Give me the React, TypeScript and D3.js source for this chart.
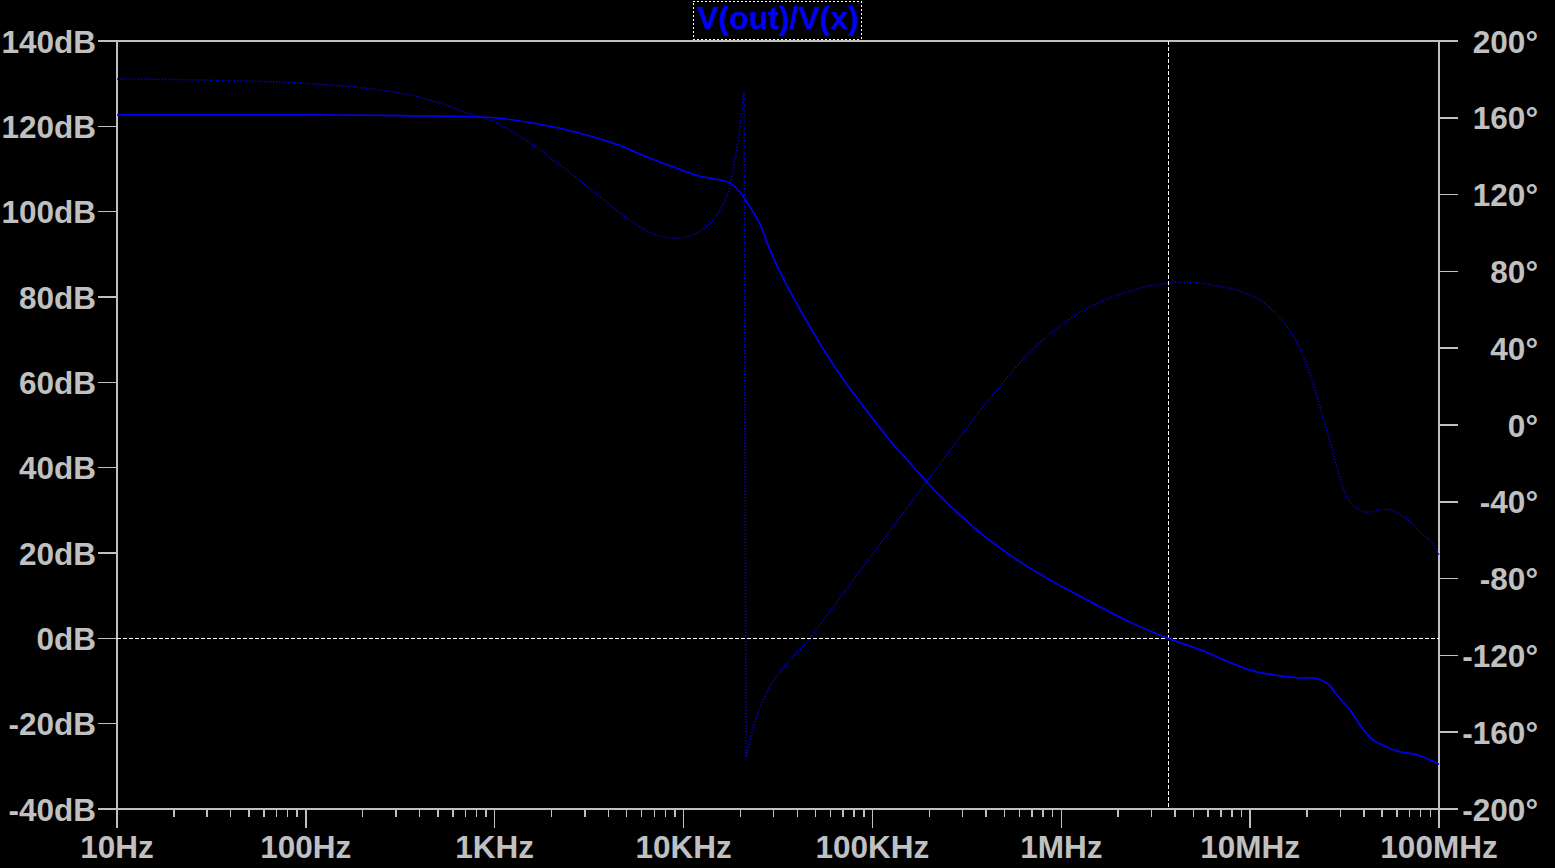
import React from 'react';
import * as d3 from 'd3';

// magnitude trace (solid)
const magFreq: number[] = [10, 100, 315, 1000, 1737, 2829, 4607, 6026, 8790, 11780, 15590, 17610, 19900, 22470, 25390, 28690, 35300, 46710, 57460, 69880, 85960, 105700, 128500, 158100, 194500, 236400, 290900, 385100, 582900, 871400, 1.303e6, 1.603e6, 2.311e6, 3.674e6, 5.426e6, 9.98e6, 1.439e7, 1.837e7, 2.204e7, 2.552e7, 2.884e7, 3.379e7, 3.816e7, 4.472e7, 5.304e7, 6.215e7, 7.647e7, 1e8];
const magDb: number[] = [122.7, 122.7, 122.5, 122.0, 120.5, 118.4, 115.5, 113.3, 110.5, 108.5, 107.4, 106.7, 104.6, 101.1, 97.1, 91.0, 82.6, 73.0, 66.4, 60.8, 55.4, 50.2, 45.5, 41.1, 36.6, 32.7, 28.9, 24.2, 18.4, 13.7, 9.5, 7.4, 3.8, 0, -2.7, -7.4, -8.8, -9.3, -9.3, -10.5, -13.3, -16.8, -20.3, -23.8, -25.5, -26.6, -27.3, -29.5];

// phase trace (dotted)
const phaseFreq: number[] = [10, 27.5, 93.1, 247, 454, 740, 1000, 1538, 2217, 3610, 4607, 6026, 7504, 9575, 11780, 13800, 15590, 17190, 18270, 19180, 19900, 20390, 20890, 21410, 22210, 23310, 25390, 28690, 34450, 39870, 46710, 57460, 69880, 85960, 105700, 128500, 158100, 194500, 236400, 290900, 349200, 404300, 473700, 582900, 708600, 871400, 1.072e6, 1.303e6, 1.603e6, 1.972e6, 2.397e6, 2.949e6, 3.674e6, 4.253e6, 5.426e6, 6.675e6, 8.115e6, 9.98e6, 1.128e7, 1.274e7, 1.439e7, 1.626e7, 1.837e7, 2.075e7, 2.288e7, 2.491e7, 2.647e7, 2.849e7, 2.991e7, 3.141e7, 3.298e7, 3.592e7, 3.911e7, 4.312e7, 4.753e7, 5.177e7, 5.638e7, 6.066e7, 6.607e7, 7.194e7, 7.932e7, 9.182e7, 1e8];
const phaseDeg: number[] = [180.2, 179.7, 178.1, 174.5, 169.3, 162.0, 157.8, 146.9, 135.4, 118.8, 110.4, 102.6, 98.4, 97.4, 100.0, 105.2, 112.0, 120.8, 132.8, 144.8, 155.2, 165.6, 173.4, -172.9, -166.7, -157.8, -147.4, -135.9, -125.5, -118.2, -110.9, -99.0, -88.0, -76.0, -64.1, -53.1, -41.1, -29.2, -18.2, -6.2, 4.2, 12.0, 20.3, 30.7, 39.6, 47.4, 54.2, 59.4, 64.1, 67.7, 70.3, 72.4, 74.0, 74.5, 74.0, 72.4, 70.8, 67.7, 65.1, 60.9, 55.7, 49.0, 39.6, 26.6, 13.0, 0.5, -8.3, -20.3, -27.6, -33.9, -38.5, -42.7, -44.8, -45.3, -44.3, -43.8, -44.3, -45.8, -48.4, -51.0, -55.7, -61.5, -67.7];

const xTickFreq: number[] = [10, 100, 1e3, 1e4, 1e5, 1e6, 1e7, 1e8];
const xTickLabels: string[] = ['10Hz', '100Hz', '1KHz', '10KHz', '100KHz', '1MHz', '10MHz', '100MHz'];
const dbTicks: number[] = [140, 120, 100, 80, 60, 40, 20, 0, -20, -40];
const degTicks: number[] = [200, 160, 120, 80, 40, 0, -40, -80, -120, -160, -200];

const title = 'V(out)/V(x)';
const cursorFreq = 3.674e6;
const cursorDb = 0;

const W = 1555;
const H = 868;
const L = 117, R = 1439, T = 41, B = 809;
const GREY = '#c0c0c0';
const BLUE = '#0000ff';
const FONT = '"Liberation Sans", Arial, sans-serif';

type Pt = [number, number];

function App() {
    const x = d3.scaleLog().domain([10, 1e8]).range([L, R]);
    const yDb = d3.scaleLinear().domain([-40, 140]).range([B, T]);
    const yDeg = d3.scaleLinear().domain([-200, 200]).range([B, T]);

    const smooth = d3.line<Pt>().curve(d3.curveCatmullRom.alpha(0.5));
    const straight = d3.line<Pt>();

    const magPts: Pt[] = magFreq.map((f, i) => [x(f), yDb(magDb[i])]);

    // split phase at the +/-180 wrap; the wrap itself is drawn straight
    const phSegs: Pt[][] = [[]];
    const wraps: Pt[][] = [];
    phaseFreq.forEach((f, i) => {
        const p: Pt = [x(f), yDeg(phaseDeg[i])];
        if (i > 0 && Math.abs(phaseDeg[i] - phaseDeg[i - 1]) > 180) {
            const seg = phSegs[phSegs.length - 1];
            wraps.push([seg[seg.length - 1], p]);
            phSegs.push([]);
        }
        phSegs[phSegs.length - 1].push(p);
    });

    // minor ticks 2..9 of each decade
    const minor: number[] = [];
    for (let dec = 1; dec < 8; dec++) {
        for (let m = 2; m <= 9; m++) minor.push(m * Math.pow(10, dec));
    }

    return (
        <svg width={W} height={H} style={{ position: 'absolute', left: 0, top: 0, background: '#000' }}>
            <rect x={0} y={0} width={W} height={H} fill="#000" />

            {/* frame */}
            <g stroke={GREY} strokeWidth={1.5} shapeRendering="crispEdges">
                <line x1={98} x2={1458} y1={T} y2={T} />
                <line x1={98} x2={1458} y1={B} y2={B} />
                <line x1={L} x2={L} y1={T} y2={B + 19} />
                <line x1={R} x2={R} y1={T} y2={B + 19} />
                {dbTicks.map(d => (
                    <line key={'l' + d} x1={98} x2={L} y1={yDb(d)} y2={yDb(d)} />
                ))}
                {degTicks.map(d => (
                    <line key={'r' + d} x1={R} x2={1458} y1={yDeg(d)} y2={yDeg(d)} />
                ))}
                {xTickFreq.map(f => (
                    <line key={'x' + f} x1={x(f)} x2={x(f)} y1={B} y2={B + 19} />
                ))}
                {minor.map(f => (
                    <line key={'m' + f} x1={x(f)} x2={x(f)} y1={B} y2={B + 8} />
                ))}
            </g>

            {/* labels */}
            <g fill={GREY} fontFamily={FONT} fontWeight="bold" fontSize={31.5}>
                {dbTicks.map(d => (
                    <text key={'tl' + d} x={96} y={yDb(d) + 11.5} textAnchor="end">{d}dB</text>
                ))}
                {degTicks.map(d => (
                    <text key={'tr' + d} x={1538} y={yDeg(d) + 11.5} textAnchor="end">{d}°</text>
                ))}
                {xTickFreq.map((f, i) => (
                    <text key={'tx' + f} x={x(f)} y={B + 49} textAnchor="middle">{xTickLabels[i]}</text>
                ))}
            </g>

            {/* cursors */}
            <g stroke="#fff" strokeWidth={1} strokeDasharray="4 2" shapeRendering="crispEdges">
                <line x1={L} x2={R} y1={yDb(cursorDb)} y2={yDb(cursorDb)} />
                <line x1={x(cursorFreq)} x2={x(cursorFreq)} y1={T} y2={B} />
            </g>

            {/* traces */}
            <g fill="none" stroke={BLUE} strokeWidth={1.4} strokeDasharray="1.2 1.8">
                {phSegs.map((s, i) => <path key={'ps' + i} d={smooth(s) || ''} />)}
                {wraps.map((s, i) => <path key={'pw' + i} d={straight(s) || ''} />)}
            </g>
            <path d={smooth(magPts) || ''} fill="none" stroke={BLUE} strokeWidth={1.6} />

            {/* title */}
            <rect x={693} y={1} width={168} height={38} fill="none" stroke="#fff" strokeWidth={1} strokeDasharray="2 2" shapeRendering="crispEdges" />
            <text x={(L + R) / 2} y={29} textAnchor="middle" fill={BLUE} fontFamily={FONT} fontWeight="bold" fontSize={32}>{title}</text>
        </svg>
    );
}

export default App;
